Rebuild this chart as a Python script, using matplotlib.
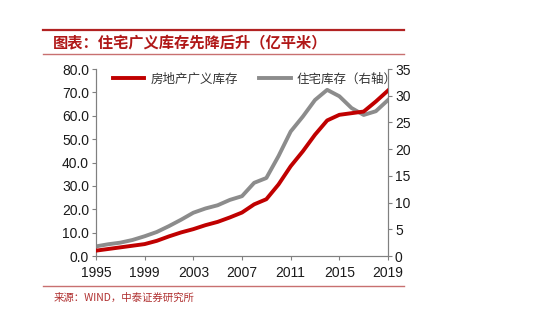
import matplotlib.pyplot as plt
from matplotlib.lines import Line2D

plt.rcParams['font.family'] = ['Liberation Sans', 'Noto Sans CJK SC', 'DejaVu Sans']

# data (亿平米)
years = list(range(1995, 2020))
broad_inventory = [2.3, 3.0, 3.7, 4.4, 5.1, 6.5, 8.4, 10.1, 11.5, 13.2, 14.6, 16.5, 18.6,
                   22.1, 24.3, 30.6, 38.4, 44.8, 51.9, 58.0, 60.4, 61.1, 61.8, 66.1, 70.8]
housing_inventory = [1.8, 2.2, 2.5, 3.0, 3.7, 4.5, 5.6, 6.8, 8.1, 8.9, 9.5, 10.5, 11.2,
                     13.7, 14.6, 18.7, 23.3, 26.1, 29.2, 31.1, 29.9, 27.7, 26.4, 27.1, 29.2]
xticks = [1995, 1999, 2003, 2007, 2011, 2015, 2019]
left_ticks = [0, 10, 20, 30, 40, 50, 60, 70, 80]
right_ticks = [0, 5, 10, 15, 20, 25, 30, 35]

red = '#C00000'
gray = '#8C8C8C'
axis_col = '#808080'

fig = plt.figure(figsize=(5.5, 3.3), dpi=100)
ax = fig.add_axes([0.1745, 0.2242, 0.531, 0.5667])
ax2 = ax.twinx()

ax.plot(years, broad_inventory, color=red, lw=2.8, solid_joinstyle='round', zorder=3)
ax2.plot(years, housing_inventory, color=gray, lw=2.8, solid_joinstyle='round', zorder=2)
ax.set_zorder(ax2.get_zorder() + 1)
ax.patch.set_visible(False)

ax.set_xlim(1995, 2019)
ax.set_ylim(0, 80)
ax2.set_ylim(0, 35)
ax.set_xticks(xticks)
ax.set_yticks(left_ticks)
ax.set_yticklabels([f'{v:.1f}' for v in left_ticks])
ax2.set_yticks(right_ticks)

for a in (ax, ax2):
    a.spines['top'].set_visible(False)
    for s in ('left', 'right', 'bottom'):
        a.spines[s].set_color(axis_col)
        a.spines[s].set_linewidth(0.8)
    a.tick_params(direction='out', length=3, width=0.8, color=axis_col,
                  labelsize=10, labelcolor='#1a1a1a', pad=2)
ax.tick_params(axis='x', pad=4)

handles = [Line2D([], [], color=red, lw=2.8), Line2D([], [], color=gray, lw=2.8)]
ax.legend(handles, ['房地产广义库存', '住宅库存（右轴）'], loc='upper left', ncol=2,
          bbox_to_anchor=(0.02, 1.04), frameon=False, handlelength=2.5, columnspacing=1.7,
          handletextpad=0.5, labelcolor='#333333',
          prop={'family': ['Noto Sans CJK SC'], 'size': 9})

# header and footer
fig.add_artist(Line2D([43 / 550, 404 / 550], [1 - 30 / 330] * 2, color='#B22222', lw=1.6))
fig.add_artist(Line2D([43 / 550, 404 / 550], [1 - 54 / 330] * 2, color='#C87070', lw=1.0))
fig.add_artist(Line2D([43 / 550, 404 / 550], [1 - 286 / 330] * 2, color='#C87070', lw=1.0))
fig.text(53 / 550, 1 - 43 / 330, '图表：住宅广义库存先降后升（亿平米）', color='#B01818',
         fontsize=11, fontweight='bold', family=['Noto Sans CJK SC'], va='center', ha='left')
fig.text(54 / 550, 1 - 298 / 330, '来源：WIND，中泰证券研究所', color='#B03030',
         fontsize=7.5, family=['Noto Sans CJK SC'], va='center', ha='left')

fig.savefig('out.png', dpi=100)
